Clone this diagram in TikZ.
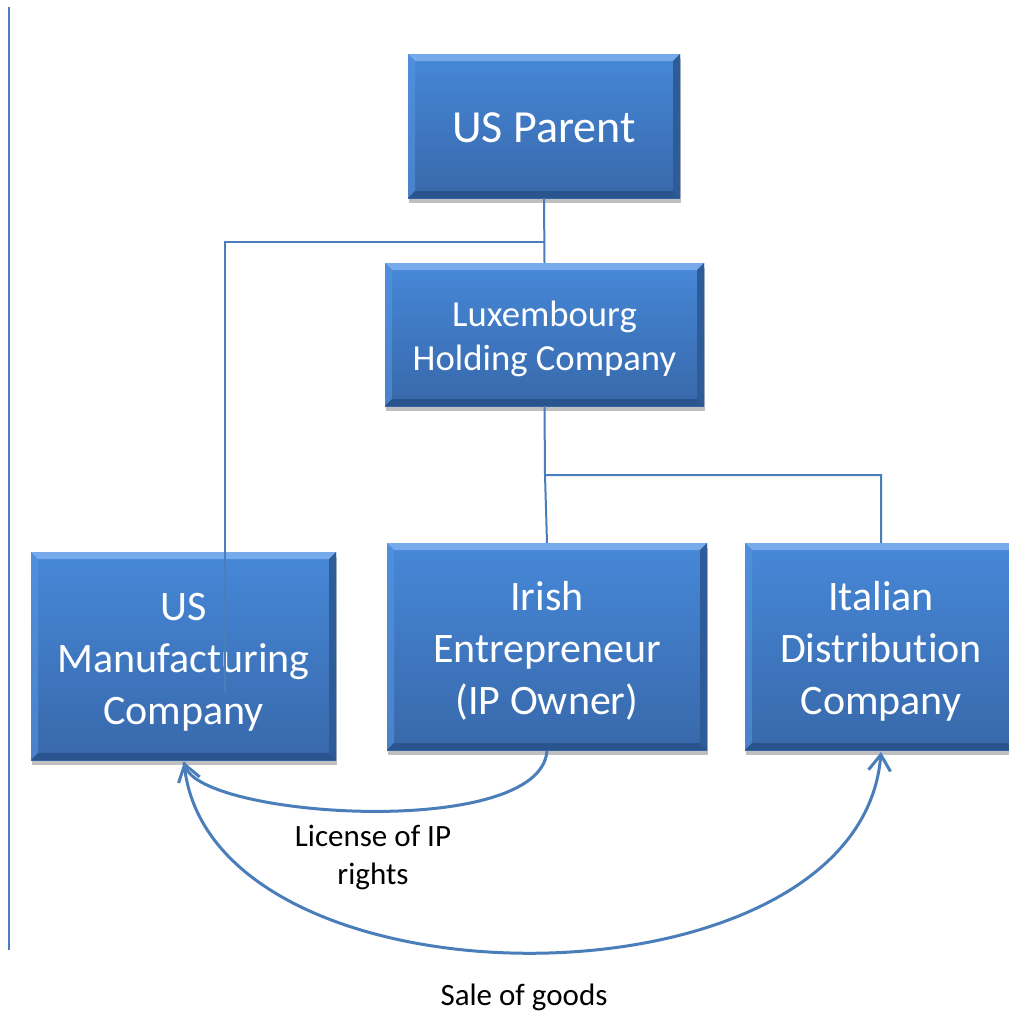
\documentclass[tikz,border=0pt]{standalone}
\usepackage{fontspec}
\setmainfont{Carlito}[Ligatures=NoCommon]
\usetikzlibrary{arrows.meta,shadows}
\definecolor{linec}{RGB}{74,126,187}
\definecolor{boxtop}{RGB}{70,136,216}
\definecolor{boxbot}{RGB}{56,104,170}
\definecolor{bevtop}{RGB}{118,170,235}
\definecolor{bevleft}{RGB}{86,148,224}
\definecolor{bevright}{RGB}{46,92,152}
\definecolor{bevbot}{RGB}{42,84,142}
\tikzset{
  corpbox/.style={rectangle, inner sep=0pt, top color=boxtop, bottom color=boxbot,
    drop shadow={shadow xshift=1pt, shadow yshift=-5pt, opacity=0.25, fill=black},
    path picture={
      \coordinate (pNW) at (path picture bounding box.north west);
      \coordinate (pNE) at (path picture bounding box.north east);
      \coordinate (pSW) at (path picture bounding box.south west);
      \coordinate (pSE) at (path picture bounding box.south east);
      \fill[bevtop] (pNW) -- (pNE) -- ([xshift=-7pt,yshift=-7pt]pNE) -- ([xshift=7pt,yshift=-7pt]pNW) -- cycle;
      \fill[bevleft,opacity=0.6] (pNW) -- ([xshift=7pt,yshift=-7pt]pNW) -- ([xshift=7pt,yshift=7pt]pSW) -- (pSW) -- cycle;
      \fill[bevright] (pNE) -- ([xshift=-7pt,yshift=-7pt]pNE) -- ([xshift=-7pt,yshift=7pt]pSE) -- (pSE) -- cycle;
      \fill[bevbot] (pSW) -- ([xshift=7pt,yshift=7pt]pSW) -- ([xshift=-7pt,yshift=7pt]pSE) -- (pSE) -- cycle;
    }},
  boxtext/.style={text=white, align=center, inner sep=0pt},
  conn/.style={draw=linec, line width=2pt},
  flow/.style={draw=linec, line width=3pt, -{Straight Barb[length=16pt,width=22pt]}},
  lbl/.style={text=black, align=center, font=\fontsize{31}{38}\selectfont}
}
\begin{document}
\begin{tikzpicture}[x=1pt,y=-1pt]
\useasboundingbox (0,0) rectangle (1009,1012);
\fill[white] (0,0) rectangle (1009,1012);
% left rule
\draw[draw=linec, line width=2.5pt] (9,7) coordinate (rtop) -- (9,950) coordinate (rbot);

\node[corpbox, minimum width=272pt, minimum height=144pt] (parent) at (544,126) {};
\node[corpbox, minimum width=319pt, minimum height=143pt] (lux) at (544.5,334.5) {};
\node[corpbox, minimum width=305pt, minimum height=208pt] (usmfg) at (183.5,656) {};
\node[corpbox, minimum width=320pt, minimum height=207pt] (irish) at (547,646.5) {};
\node[corpbox, minimum width=272pt, minimum height=207pt] (italy) at (881,646.5) {};

\node[boxtext, font=\fontsize{46}{55}\selectfont] (parent-t) at ([yshift=-2pt]parent.center) {US Parent};
\node[boxtext, font=\fontsize{36.7}{44}\selectfont] (lux-t) at ([yshift=-4pt]lux.center) {Luxembourg\\Holding Company};
\node[boxtext, font=\fontsize{42}{52}\selectfont] (usmfg-t) at ([yshift=-6pt]usmfg.center) {US\\Manufacturing\\Company};
\node[boxtext, font=\fontsize{42}{52}\selectfont] (irish-t) at ([yshift=-4pt]irish.center) {Irish\\Entrepreneur\\(IP Owner)};
\node[boxtext, font=\fontsize{42}{52}\selectfont] (italy-t) at ([yshift=-5pt]italy.center) {Italian\\Distribution\\Company};

% org connectors
\coordinate (j1) at (544,242);
\coordinate (mfgend) at (225,693);
\coordinate (j2) at (545,475);
\draw[conn] (parent.south) -- (lux.north);
\draw[conn] (j1) -| (mfgend);
\draw[conn] (lux.south) -- (j2) -| (italy.north);
\draw[conn] (j2) -- (irish.north);

% flows
\coordinate (mfgtip) at (184,762);
\coordinate (irishbot) at (547,751);
\coordinate (italytip) at (881,752);
\draw[flow] (irishbot) .. controls (540,840) and (200,818) .. (mfgtip);
\draw[flow] (mfgtip) .. controls (205,1018) and (860,1018) .. (italytip);

\node[lbl] (lic) at (373,857) {License of IP\\rights};
\node[lbl] (sale) at (524,997) {Sale of goods};
\end{tikzpicture}
\end{document}
